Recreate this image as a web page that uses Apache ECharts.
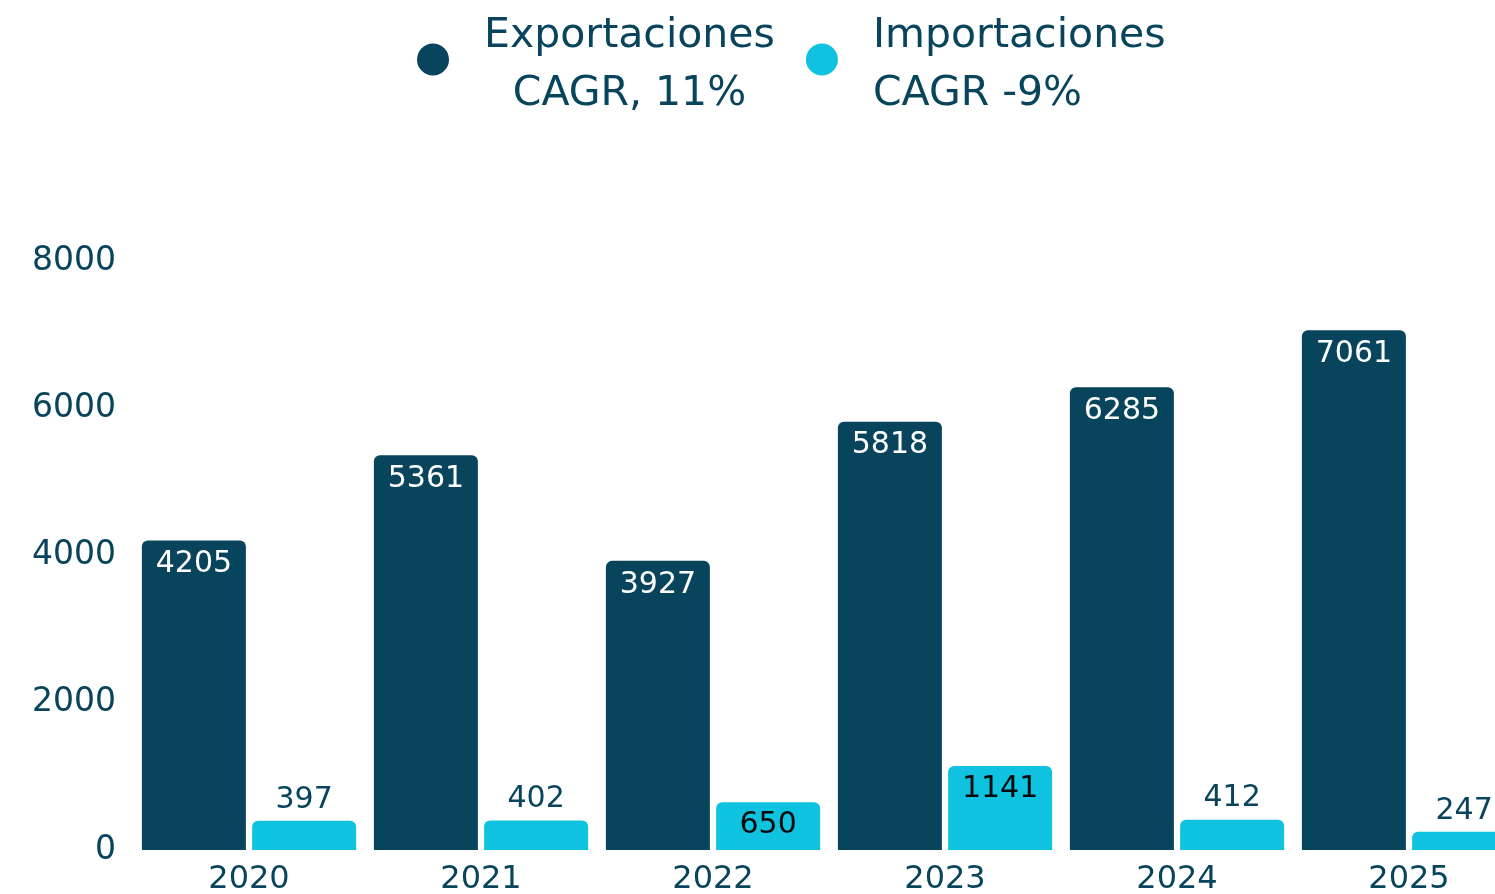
<!DOCTYPE html>
<html>
<head>
<meta charset="utf-8">
<script src="https://cdn.jsdelivr.net/npm/echarts@6/dist/echarts.min.js"></script>
<style>
  html, body { margin: 0; padding: 0; background: #fff; }
  #chart { width: 1495px; height: 894px; }
</style>
</head>
<body>
<div id="chart"></div>
<script>
var years = ['2020', '2021', '2022', '2023', '2024', '2025'];
var exportaciones = [4205, 5361, 3927, 5818, 6285, 7061];
var importaciones = [397, 402, 650, 1141, 412, 247];
var seriesNames = ['Exportaciones', 'Importaciones'];
var cagrText = ['CAGR, 11%', 'CAGR -9%'];
var yTicks = [0, 2000, 4000, 6000, 8000];

var dark = '#08445c';
var cyan = '#0ec2e0';
var font = 'DejaVu Sans';

var myChart = echarts.init(document.getElementById('chart'));

// imports: small bars get label on top, bigger ones inside
var importData = importaciones.map(function (v) {
    var inside = v > 600;
    return {
        value: v,
        label: {
            position: inside ? 'insideTop' : 'top',
            distance: inside ? 8 : 6,
            color: inside ? '#0a0a0a' : dark
        }
    };
});

var option = {
    animation: false,
    legend: {
        left: 412,
        top: 11,
        icon: 'circle',
        itemWidth: 32,
        itemHeight: 32,
        itemGap: 31,
        data: seriesNames,
        formatter: function (name) {
            var i = seriesNames.indexOf(name);
            var k = i === 0 ? 'c' : 'l';
            return '{' + k + '|' + name + '}\n{' + k + '|' + cagrText[i] + '}';
        },
        textStyle: {
            padding: [12, 0, 0, 30],
            rich: {
                c: { fontSize: 41, lineHeight: 58, align: 'center', color: dark, fontFamily: font },
                l: { fontSize: 41, lineHeight: 58, align: 'left', color: dark, fontFamily: font }
            }
        }
    },
    grid: {
        left: 133,
        right: -30,
        top: 261,
        bottom: 44,
        outerBoundsMode: 'none',
        containLabel: false
    },
    xAxis: {
        type: 'category',
        data: years,
        axisLine: { show: false },
        axisTick: { show: false },
        axisLabel: {
            color: dark,
            fontSize: 32,
            fontFamily: font,
            margin: 14
        }
    },
    yAxis: {
        type: 'value',
        min: yTicks[0],
        max: yTicks[yTicks.length - 1],
        interval: 2000,
        splitLine: { show: false },
        axisLine: { show: false },
        axisTick: { show: false },
        axisLabel: {
            color: dark,
            fontSize: 33,
            fontFamily: font,
            margin: 17,
            formatter: function (v) { return String(v); }
        }
    },
    series: [
        {
            name: seriesNames[0],
            type: 'bar',
            data: exportaciones,
            barWidth: 104,
            barGap: '6%',
            itemStyle: { color: dark, borderRadius: [6, 6, 0, 0] },
            label: {
                show: true,
                position: 'insideTop',
                distance: 9,
                color: '#fff',
                fontSize: 30,
                fontFamily: font
            }
        },
        {
            name: seriesNames[1],
            type: 'bar',
            data: importData,
            barWidth: 104,
            barGap: '6%',
            itemStyle: { color: cyan, borderRadius: [6, 6, 0, 0] },
            label: {
                show: true,
                fontSize: 30,
                fontFamily: font
            }
        }
    ]
};

myChart.setOption(option);
</script>
</body>
</html>
